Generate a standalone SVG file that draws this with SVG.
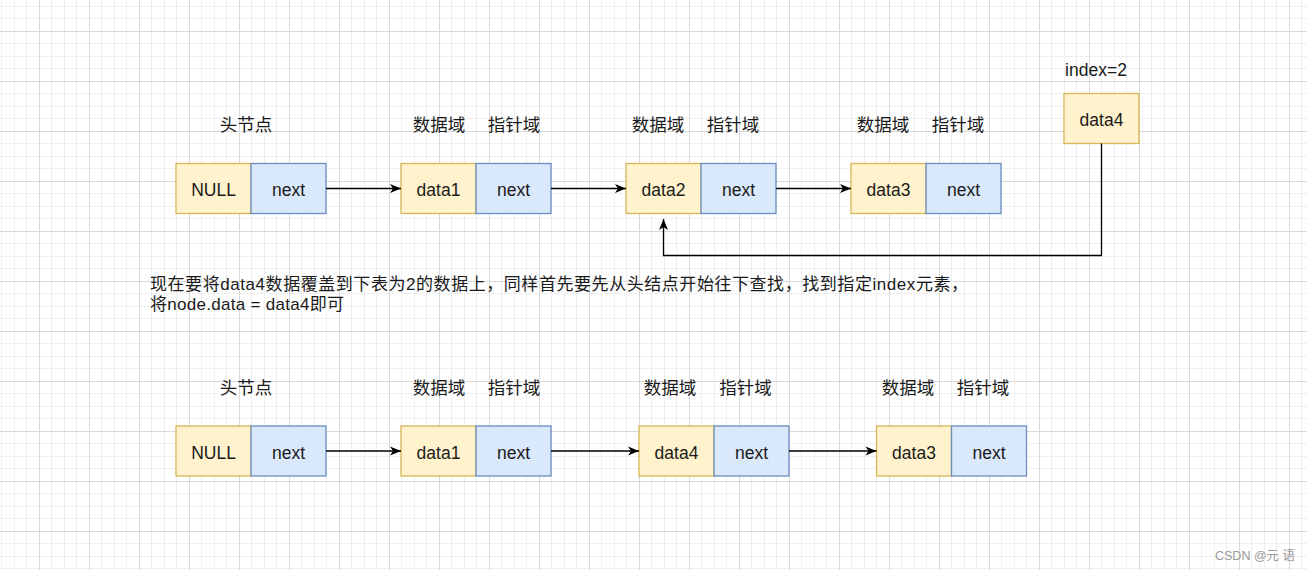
<svg xmlns="http://www.w3.org/2000/svg" width="1307" height="570" viewBox="0 0 1307 570">
<style>
.d{fill:#fff2cc;stroke:#d6b656;stroke-width:1.3}
.p{fill:#dae8fc;stroke:#6c8ebf;stroke-width:1.3}
.t{font-family:"Liberation Sans","Noto Sans CJK SC",sans-serif;font-size:17.5px;fill:#1a1a1a;text-anchor:middle}
.b{font-family:"Liberation Sans","Noto Sans CJK SC",sans-serif;font-size:17px;fill:#1a1a1a}
.e{fill:none;stroke:#000;stroke-width:1.3;marker-end:url(#ah)}
.wm{font-family:"Liberation Sans","Noto Sans CJK SC",sans-serif;font-size:12.5px;fill:#9a9a9a}
</style>
<defs>
<pattern id="grid" x="39" y="31" width="50" height="50" patternUnits="userSpaceOnUse">
<rect x="12" y="0" width="1" height="50" fill="#efefef"/>
<rect x="25" y="0" width="1" height="50" fill="#efefef"/>
<rect x="37" y="0" width="1" height="50" fill="#efefef"/>
<rect x="0" y="12" width="50" height="1" fill="#efefef"/>
<rect x="0" y="25" width="50" height="1" fill="#efefef"/>
<rect x="0" y="37" width="50" height="1" fill="#efefef"/>
<rect x="0" y="0" width="1" height="50" fill="#d9d9d9"/>
<rect x="0" y="0" width="50" height="1" fill="#d9d9d9"/>
</pattern>
<marker id="ah" markerUnits="userSpaceOnUse" markerWidth="12" markerHeight="10" refX="11" refY="4.5" orient="auto" overflow="visible">
<path d="M0,0 L11,4.5 L0,9 L3,4.5 Z" fill="#000"/>
</marker>
</defs>
<rect width="1307" height="570" fill="#fff"/>
<rect width="1307" height="570" fill="url(#grid)"/>

<g id="labels-top">
<text class="t" x="246" y="131">头节点</text>
<text class="t" x="439" y="131">数据域</text>
<text class="t" x="514" y="131">指针域</text>
<text class="t" x="658" y="131">数据域</text>
<text class="t" x="733" y="131">指针域</text>
<text class="t" x="883" y="131">数据域</text>
<text class="t" x="958" y="131">指针域</text>
<text class="t" x="1096" y="76">index=2</text>
</g>

<g id="top-head">
<rect class="d" x="176" y="163.5" width="75" height="50"/>
<rect class="p" x="251" y="163.5" width="75" height="50"/>
<text class="t" x="213.5" y="196">NULL</text>
<text class="t" x="288.5" y="196">next</text>
</g>
<g id="top-node1">
<rect class="d" x="401" y="163.5" width="75" height="50"/>
<rect class="p" x="476" y="163.5" width="75" height="50"/>
<text class="t" x="438.5" y="196">data1</text>
<text class="t" x="513.5" y="196">next</text>
</g>
<g id="top-node2">
<rect class="d" x="626" y="163.5" width="75" height="50"/>
<rect class="p" x="701" y="163.5" width="75" height="50"/>
<text class="t" x="663.5" y="196">data2</text>
<text class="t" x="738.5" y="196">next</text>
</g>
<g id="top-node3">
<rect class="d" x="851" y="163.5" width="75" height="50"/>
<rect class="p" x="926" y="163.5" width="75" height="50"/>
<text class="t" x="888.5" y="196">data3</text>
<text class="t" x="963.5" y="196">next</text>
</g>
<g id="data4-new">
<rect class="d" x="1064" y="93.5" width="75" height="50"/>
<text class="t" x="1101.5" y="126">data4</text>
</g>

<g id="description">
<text class="b" x="150" y="290" textLength="818" lengthAdjust="spacing">现在要将data4数据覆盖到下表为2的数据上，同样首先要先从头结点开始往下查找，找到指定index元素，</text>
<text class="b" x="150" y="310" textLength="194" lengthAdjust="spacing">将node.data = data4即可</text>
</g>

<g id="labels-bottom">
<text class="t" x="246" y="394">头节点</text>
<text class="t" x="439" y="394">数据域</text>
<text class="t" x="514" y="394">指针域</text>
<text class="t" x="670" y="394">数据域</text>
<text class="t" x="745.5" y="394">指针域</text>
<text class="t" x="908" y="394">数据域</text>
<text class="t" x="983" y="394">指针域</text>
</g>

<g id="bot-head">
<rect class="d" x="176" y="426" width="75" height="50"/>
<rect class="p" x="251" y="426" width="75" height="50"/>
<text class="t" x="213.5" y="458.5">NULL</text>
<text class="t" x="288.5" y="458.5">next</text>
</g>
<g id="bot-node1">
<rect class="d" x="401" y="426" width="75" height="50"/>
<rect class="p" x="476" y="426" width="75" height="50"/>
<text class="t" x="438.5" y="458.5">data1</text>
<text class="t" x="513.5" y="458.5">next</text>
</g>
<g id="bot-node2">
<rect class="d" x="639" y="426" width="75" height="50"/>
<rect class="p" x="714" y="426" width="75" height="50"/>
<text class="t" x="676.5" y="458.5">data4</text>
<text class="t" x="751.5" y="458.5">next</text>
</g>
<g id="bot-node3">
<rect class="d" x="876.5" y="426" width="75" height="50"/>
<rect class="p" x="951.5" y="426" width="75" height="50"/>
<text class="t" x="914" y="458.5">data3</text>
<text class="t" x="989" y="458.5">next</text>
</g>

<g id="connectors">
<path class="e" d="M326,188.5 H401"/>
<path class="e" d="M551,188.5 H626"/>
<path class="e" d="M776,188.5 H851"/>
<path class="e" d="M1101.5,143.5 V255.5 H663.5 V219"/>
<path class="e" d="M326,451 H401"/>
<path class="e" d="M551,451 H639"/>
<path class="e" d="M789,451 H876.5"/>
</g>

<text class="wm" x="1215" y="560">CSDN @元 语</text>
</svg>
